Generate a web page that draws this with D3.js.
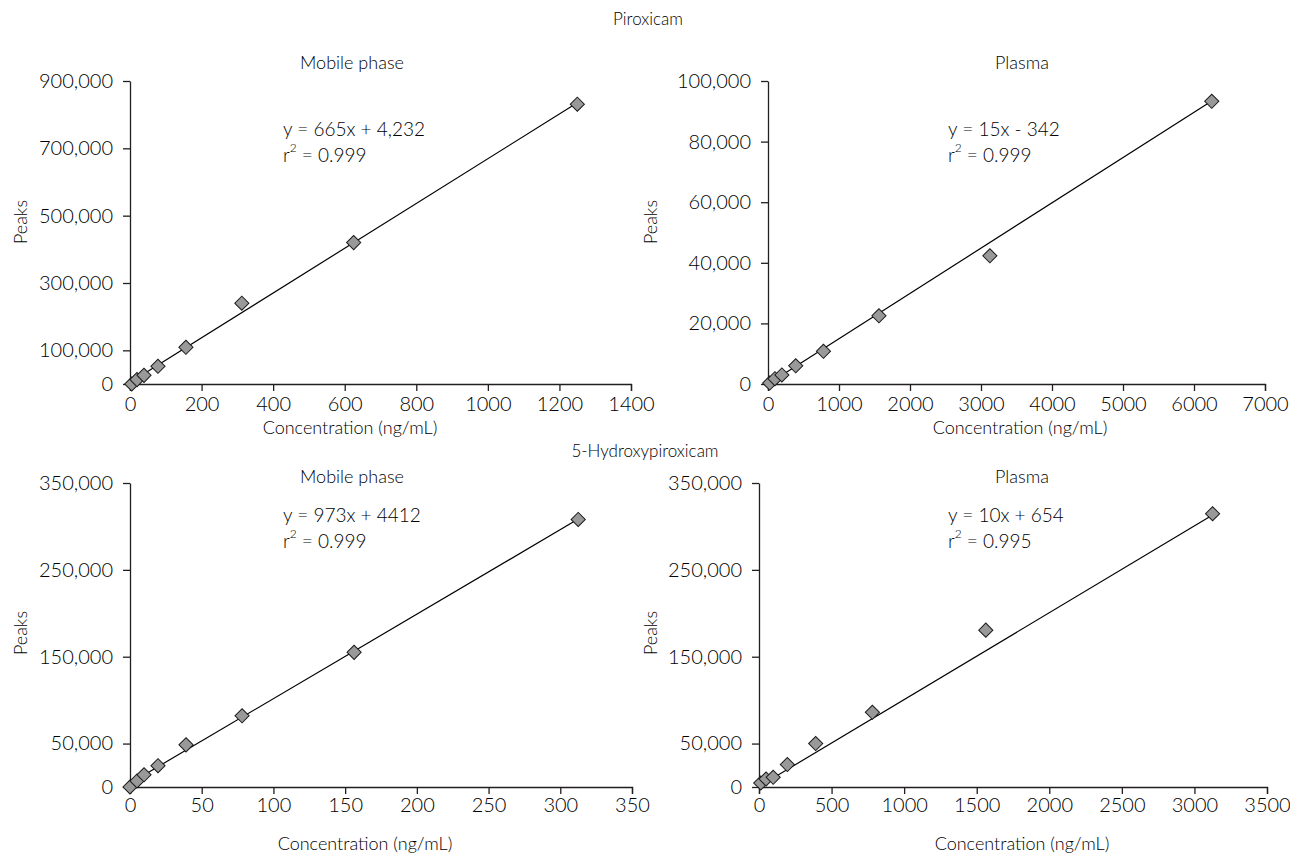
<!DOCTYPE html>
<html>
<head>
<meta charset="utf-8">
<script src="https://cdn.jsdelivr.net/npm/d3@7"></script>
<style>
  body { margin: 0; background: #fff; }
  svg text { font-family: Lato, "Open Sans", sans-serif; font-weight: 300; fill: #000; }
  .axis path, .axis line { stroke: #231f20; stroke-width: 1.3; }
</style>
</head>
<body>
<script>

// piroxicam, mobile phase
var conc1 = [4.88, 19.53, 39.06, 78.13, 156.25, 312.5, 625, 1250],
    peaks1 = [0, 13000, 25700, 52500, 109000, 240000, 420000, 831000];
// piroxicam, plasma
var conc2 = [24.4, 97.7, 195.3, 390.6, 781.3, 1562.5, 3125, 6250],
    peaks2 = [300, 1750, 3000, 6000, 10800, 22500, 42300, 93300];
// 5-hydroxypiroxicam, mobile phase
var conc3 = [0, 4.88, 9.77, 19.53, 39.06, 78.13, 156.25, 312.5],
    peaks3 = [0, 7000, 14000, 24500, 48500, 82000, 155000, 308000];
// 5-hydroxypiroxicam, plasma
var conc4 = [12.2, 48.8, 97.7, 195.3, 390.6, 781.3, 1562.5, 3125],
    peaks4 = [4600, 9200, 11200, 25800, 50000, 86000, 180600, 314600];

var xTicks1 = [0, 200, 400, 600, 800, 1000, 1200, 1400],
    yTicks1 = [0, 100000, 300000, 500000, 700000, 900000];
var xTicks2 = [0, 1000, 2000, 3000, 4000, 5000, 6000, 7000],
    yTicks2 = [0, 20000, 40000, 60000, 80000, 100000];
var xTicks3 = [0, 50, 100, 150, 200, 250, 300, 350],
    yTicks3 = [0, 50000, 150000, 250000, 350000];
var xTicks4 = [0, 500, 1000, 1500, 2000, 2500, 3000, 3500],
    yTicks4 = [0, 50000, 150000, 250000, 350000];

// fitted lines (slope, intercept) and the printed equations
var fitSlope = [665, 15, 973, 100],
    fitIntercept = [4232, -342, 4412, 654];
var eqText = ["y = 665x + 4,232", "y = 15x - 342", "y = 973x + 4412", "y = 10x + 654"],
    r2Text = [" = 0.999", " = 0.999", " = 0.999", " = 0.995"];
var panelTitles = ["Mobile phase", "Plasma", "Mobile phase", "Plasma"];
var groupTitles = ["Piroxicam", "5-Hydroxypiroxicam"];

var width = 1290,
    height = 854;

var svg = d3.select("body").append("svg")
    .attr("width", width)
    .attr("height", height);

var fmt = d3.format(",");

// layout of each panel (pixels)
var panels = [
  {conc: conc1, peaks: peaks1, xt: xTicks1, yt: yTicks1, x0: 130, x1: 631, yb: 384, yt0: 81,
   tx: 352, ty: 62, ex: 283, ey: 128, px: 20, py: 222, cx: 350, cy: 427, tly: 404},
  {conc: conc2, peaks: peaks2, xt: xTicks2, yt: yTicks2, x0: 768, x1: 1265, yb: 384, yt0: 81,
   tx: 1022, ty: 62, ex: 948, ey: 128, px: 650, py: 222, cx: 1020, cy: 427, tly: 404},
  {conc: conc3, peaks: peaks3, xt: xTicks3, yt: yTicks3, x0: 130, x1: 632, yb: 787, yt0: 483,
   tx: 352, ty: 476, ex: 283, ey: 514, px: 20, py: 633, cx: 365, cy: 843, tly: 805},
  {conc: conc4, peaks: peaks4, xt: xTicks4, yt: yTicks4, x0: 759, x1: 1267, yb: 787, yt0: 483,
   tx: 1022, ty: 476, ex: 948, ey: 514, px: 650, py: 633, cx: 1022, cy: 843, tly: 805}
];

var diamond = d3.symbol().type(d3.symbolSquare).size(100);

panels.forEach(function(p, i) {

  var xScale = d3.scaleLinear()
      .domain([p.xt[0], p.xt[p.xt.length - 1]])
      .range([p.x0, p.x1]);
  var yScale = d3.scaleLinear()
      .domain([p.yt[0], p.yt[p.yt.length - 1]])
      .range([p.yb, p.yt0]);

  var g = svg.append("g");

  var gx = g.append("g")
      .attr("class", "axis")
      .attr("transform", "translate(0," + p.yb + ")")
      .call(d3.axisBottom(xScale).tickValues(p.xt).tickSize(7).tickSizeOuter(7).tickFormat(d3.format("d")));
  gx.selectAll("text")
      .attr("y", p.tly - p.yb)
      .attr("dy", "0.35em")
      .style("font-size", "20px");

  var gy = g.append("g")
      .attr("class", "axis")
      .attr("transform", "translate(" + p.x0 + ",0)")
      .call(d3.axisLeft(yScale).tickValues(p.yt).tickSize(7).tickSizeOuter(0).tickPadding(10).tickFormat(fmt));
  gy.selectAll("text").style("font-size", "20px");

  // regression line
  var xMax = d3.max(p.conc);
  g.append("line")
      .attr("x1", xScale(0))
      .attr("y1", yScale(fitIntercept[i] > 0 ? fitIntercept[i] : 0))
      .attr("x2", xScale(xMax))
      .attr("y2", yScale(fitSlope[i] * xMax + fitIntercept[i]))
      .attr("stroke", "#000")
      .attr("stroke-width", 1.2);

  g.selectAll(".pt")
      .data(p.conc)
      .enter().append("path")
      .attr("class", "pt")
      .attr("d", diamond)
      .attr("transform", function(d, j) {
        return "translate(" + xScale(d) + "," + yScale(p.peaks[j]) + ") rotate(45)";
      })
      .attr("fill", "#999999")
      .attr("stroke", "#1a1a1a")
      .attr("stroke-width", 1);

  g.append("text")
      .attr("x", p.tx).attr("y", p.ty)
      .attr("text-anchor", "middle")
      .attr("dominant-baseline", "central")
      .style("font-size", "18px")
      .text(panelTitles[i]);

  g.append("text")
      .attr("x", p.ex).attr("y", p.ey)
      .attr("dominant-baseline", "central")
      .style("font-size", "19px")
      .text(eqText[i]);

  var r2 = g.append("text")
      .attr("x", p.ex).attr("y", p.ey + 26)
      .attr("dominant-baseline", "central")
      .style("font-size", "19px");
  r2.append("tspan").text("r");
  r2.append("tspan").attr("dy", "-7").style("font-size", "12px").text("2");
  r2.append("tspan").attr("dy", "7").text(r2Text[i]);

  g.append("text")
      .attr("transform", "translate(" + p.px + "," + p.py + ") rotate(-90)")
      .attr("text-anchor", "middle")
      .attr("dominant-baseline", "central")
      .style("font-size", "18px")
      .text("Peaks");

  g.append("text")
      .attr("x", p.cx).attr("y", p.cy)
      .attr("text-anchor", "middle")
      .attr("dominant-baseline", "central")
      .style("font-size", "18px")
      .text("Concentration (ng/mL)");
});

svg.append("text")
    .attr("x", 648).attr("y", 18)
    .attr("text-anchor", "middle")
    .attr("dominant-baseline", "central")
    .style("font-size", "17px")
    .text(groupTitles[0]);

svg.append("text")
    .attr("x", 645).attr("y", 450)
    .attr("text-anchor", "middle")
    .attr("dominant-baseline", "central")
    .style("font-size", "17px")
    .text(groupTitles[1]);

</script>
</body>
</html>
